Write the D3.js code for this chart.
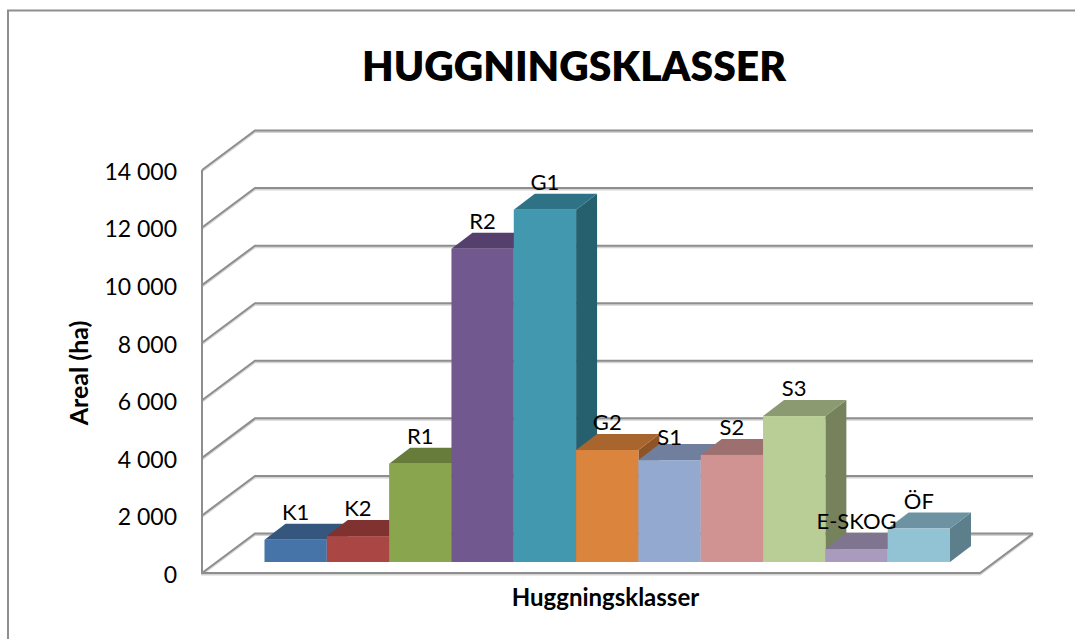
<!DOCTYPE html>
<html>
<head>
<meta charset="utf-8">
<script src="https://cdn.jsdelivr.net/npm/d3@7"></script>
<style>
  html, body { margin: 0; padding: 0; background: #fff; }
  text { font-family: Lato, "Open Sans", sans-serif; fill: #000; }
</style>
</head>
<body>
<div id="grafico"></div>
<script>
var categorias = ["K1", "K2", "R1", "R2", "G1", "G2", "S1", "S2", "S3", "E-SKOG", "ÖF"];
var areal = [770, 900, 3415, 10880, 12240, 3890, 3540, 3720, 5070, 450, 1160];
var marcas = [0, 2000, 4000, 6000, 8000, 10000, 12000, 14000];

var frente = ["#4674a8", "#aa4643", "#89a54e", "#71588f", "#4198af", "#db843d", "#93a9cf", "#d19392", "#b9cd96", "#a99bbd", "#92c3d4"];
var arriba = ["#35567d", "#803230", "#677c3a", "#553f6c", "#2e7286", "#a8652d", "#6f7f9d", "#9e6f6f", "#8c9a71", "#807590", "#6d93a2"];
var lado = ["#2d4a6c", "#6e2b29", "#586a32", "#49365d", "#26606f", "#8f5426", "#5f6d87", "#885f5f", "#75825c", "#6e647c", "#5d7e8b"];

var ancho = 1075, alto = 639;
var gris = "#8e8e8e";

var svg = d3.select("#grafico").append("svg")
    .attr("width", ancho)
    .attr("height", alto)
    .style("display", "block");

var yScale = d3.scaleLinear().domain([0, 14000]).range([573, 170]);
var xScale = d3.scaleBand().domain(categorias).range([264.5, 950]).padding(0);

// profundidad de la pared y de las barras
var fondo = { x: 53, y: -39.5 };
var prof = { x: 21, y: -16 };
var base = yScale(0) - 11;
var xFin = 980;

var miles = d3.formatLocale({ decimal: ",", thousands: " ", grouping: [3], currency: ["", ""] }).format(",d");

// marco
svg.append("path")
    .attr("d", d3.line()([[8, alto], [8, 10.5], [ancho, 10.5]]))
    .attr("fill", "none")
    .attr("stroke", gris)
    .attr("stroke-width", 2);

// paredes y grilla
var grilla = svg.append("g").attr("fill", "none");

function lineas(color, w, dy) {
    grilla.selectAll(null)
        .data(marcas)
        .enter()
        .append("path")
        .attr("d", function (d) {
            var y = yScale(d) + dy;
            return d3.line()([[202, y], [202 + fondo.x, y + fondo.y], [xFin + fondo.x, y + fondo.y]]);
        })
        .attr("stroke", color)
        .attr("stroke-width", w);

    grilla.append("path")
        .attr("d", d3.line()([[202, yScale(14000) + dy], [202, yScale(0) + dy], [xFin, yScale(0) + dy], [xFin + fondo.x, yScale(0) + fondo.y + dy]]))
        .attr("stroke", color)
        .attr("stroke-width", w);
}
lineas("#d4d4d4", 2, 1.5);
lineas(gris, 2, 0);

// barras, de izquierda a derecha para que se tapen bien
var barras = svg.selectAll(".bar")
    .data(categorias)
    .enter()
    .append("g")
    .attr("class", "bar");

function alturaY(i) { return base - (yScale(0) - yScale(areal[i])); }

barras.append("path")
    .attr("d", function (d, i) {
        var x = xScale(d) + xScale.bandwidth(), y = alturaY(i);
        return d3.line()([[x, y], [x + prof.x, y + prof.y], [x + prof.x, base + prof.y], [x, base]]) + "Z";
    })
    .attr("fill", function (d, i) { return lado[i]; });

barras.append("path")
    .attr("d", function (d, i) {
        var x = xScale(d), w = xScale.bandwidth(), y = alturaY(i);
        return d3.line()([[x, y], [x + prof.x, y + prof.y], [x + w + prof.x, y + prof.y], [x + w, y]]) + "Z";
    })
    .attr("fill", function (d, i) { return arriba[i]; });

barras.append("rect")
    .attr("x", function (d) { return xScale(d); })
    .attr("y", function (d, i) { return alturaY(i); })
    .attr("width", xScale.bandwidth())
    .attr("height", function (d, i) { return base - alturaY(i); })
    .attr("fill", function (d, i) { return frente[i]; });

// etiquetas encima de las barras
svg.selectAll(".label")
    .data(categorias)
    .enter()
    .append("text")
    .attr("class", "label")
    .attr("x", function (d) { return xScale(d) + xScale.bandwidth() / 2; })
    .attr("y", function (d, i) { return alturaY(i) - (d === "S1" ? 15 : 20); })
    .attr("text-anchor", "middle")
    .style("font-size", "22px")
    .text(function (d) { return d; });

// eje y
var ejeY = svg.append("g")
    .attr("transform", "translate(177,2)")
    .call(d3.axisLeft(yScale).tickValues(marcas).tickSize(0).tickPadding(0).tickFormat(miles));
ejeY.select(".domain").remove();
ejeY.selectAll("text")
    .style("font-size", "23px")
    .style("font-family", "Lato, sans-serif");

svg.append("text")
    .attr("x", 574)
    .attr("y", 80.5)
    .attr("text-anchor", "middle")
    .style("font-size", "40.8px")
    .style("font-weight", "800")
    .text("HUGGNINGSKLASSER");

svg.append("text")
    .attr("x", 605.5)
    .attr("y", 606)
    .attr("text-anchor", "middle")
    .style("font-size", "24px")
    .style("font-weight", "700")
    .text("Huggningsklasser");

svg.append("text")
    .attr("transform", "translate(88,373) rotate(-90)")
    .attr("text-anchor", "middle")
    .style("font-size", "25px")
    .style("font-weight", "700")
    .text("Areal (ha)");
</script>
</body>
</html>
